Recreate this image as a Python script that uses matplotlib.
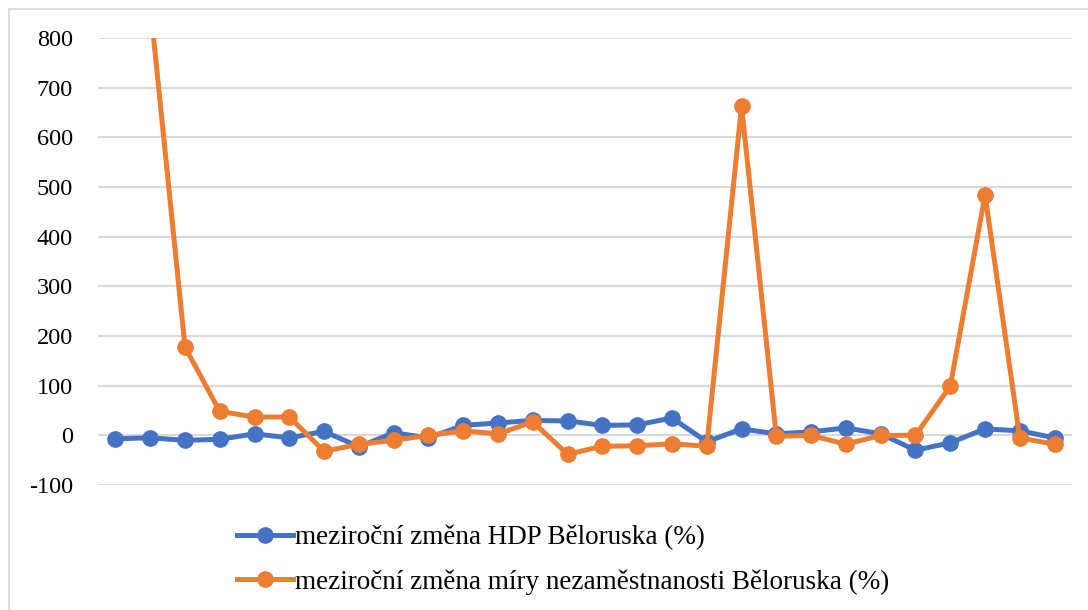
import numpy as np
import matplotlib.pyplot as plt
from matplotlib.patches import Rectangle

plt.rcParams['font.family'] = ['Liberation Serif', 'DejaVu Serif']
plt.rcParams['axes.unicode_minus'] = False

# meziroční změny, 28 období (osa x bez popisků)
hdp = [-7, -5, -10, -8, 3, -5, 8, -23, 5, -5, 20, 25, 30, 29, 20, 21, 35, -13,
       13, 3, 7, 15, 3, -30, -15, 13, 9, -5]
nezam = [np.nan, 868, 178, 48, 37, 37, -32, -18, -10, 0, 9, 3, 27, -38, -22, -21, -17, -22,
         663, -2, 0, -18, 0, 0, 99, 484, -5, -18]
labels = ["meziroční změna HDP Běloruska (%)",
          "meziroční změna míry nezaměstnanosti Běloruska (%)"]
yticks = list(range(-100, 900, 100))

x = np.arange(len(hdp))

fig = plt.figure(figsize=(10.88, 6.1), dpi=100)
ax = fig.add_axes([98/1088, 1 - 485/610, (1072-98)/1088, (485-38)/610])

ax.plot(x, hdp, color="#4472C4", lw=3.6, marker="o", ms=11, label=labels[0], zorder=3)
ax.plot(x, nezam, color="#ED7D31", lw=3.6, marker="o", ms=11, label=labels[1], zorder=4)

ax.set_xlim(-0.5, len(hdp) - 0.5)
ax.set_ylim(-100, 800)
ax.set_yticks(yticks)
ax.set_xticks([])
ax.tick_params(axis="y", length=0, pad=18, labelsize=17.5)
ax.grid(axis="y", color="#D9D9D9", lw=1.5)
ax.set_axisbelow(True)
for s in ax.spines.values():
    s.set_visible(False)

fig.legend(loc="upper left", bbox_to_anchor=(237/1088, 1 - 525/610), frameon=False,
           fontsize=19.5, handlelength=2.05, handletextpad=0.1, labelspacing=0.69,
           borderpad=0, borderaxespad=0)

fig.patches.append(Rectangle((9/1088, -0.02), 1.1, 1.02 - 9/610, transform=fig.transFigure,
                             fill=False, edgecolor="#D9D9D9", lw=1.2))

fig.savefig("out.png", dpi=100)
